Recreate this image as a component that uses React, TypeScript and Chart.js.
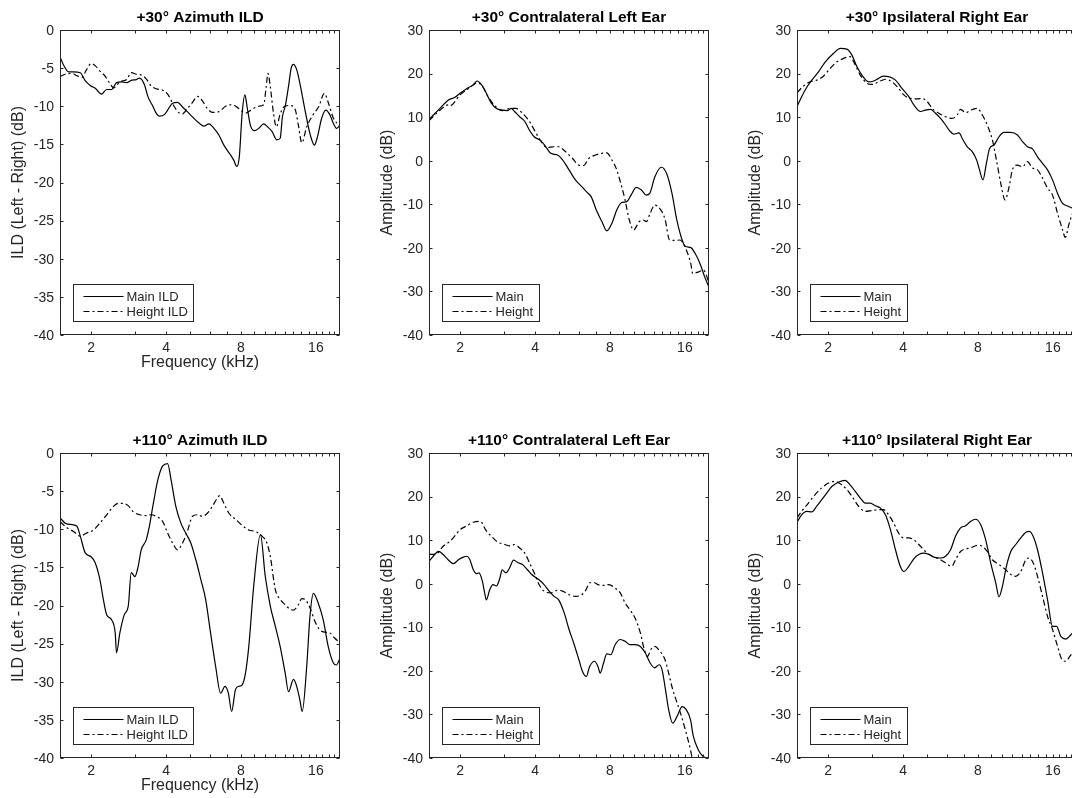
import React, { useEffect, useRef } from "react";
import { Chart, registerables } from "chart.js";

Chart.register(...registerables);

// ---------------- Data (frequency in kHz, level in dB) ----------------
const f30IldMain = [1.5,1.55,1.625,1.7,1.81,1.89,1.99,2.08,2.2,2.31,2.42,2.53,2.65,2.78,2.9,3.04,3.13,3.28,3.38,3.54,3.65,3.76,3.94,4.06,4.25,4.45,4.66,4.87,5.11,5.43,5.68,5.95,6.23,6.53,6.83,7.27,7.49,7.7,7.88,8.09,8.3,8.47,8.73,9.08,9.43,9.87,10.24,10.66,11.16,11.5,11.74,12.05,12.42,12.73,13.0,13.4,13.8,14.47,15.15,15.78,16.24,16.87,17.53,18.2,18.78,19.36,20];
const v30IldMain = [-3.5,-4.6,-5.5,-5.5,-5.6,-6.6,-7.3,-7.65,-8.4,-7.8,-7.8,-6.9,-6.8,-6.9,-6.6,-6.5,-6.3,-7.2,-8.7,-10.0,-10.9,-11.3,-11.1,-10.5,-9.6,-9.5,-10.1,-10.7,-11.4,-12.2,-12.6,-12.3,-12.9,-13.8,-15.1,-16.4,-17.1,-17.9,-16.6,-10.9,-8.5,-10.1,-12.5,-13.2,-12.9,-12.3,-12.7,-13.3,-14.4,-14.2,-11.4,-10.0,-7.4,-5.0,-4.5,-5.2,-7.0,-10.5,-13.6,-15.1,-14.0,-11.6,-10.5,-11.1,-12.2,-12.9,-12.5];

const f30IldHeight = [1.5,1.575,1.68,1.754,1.84,1.91,2.0,2.08,2.17,2.27,2.38,2.46,2.53,2.61,2.78,2.9,3.04,3.18,3.33,3.48,3.65,3.88,4.06,4.19,4.31,4.52,4.66,4.87,5.11,5.35,5.6,5.86,6.14,6.53,6.94,7.38,7.84,8.34,8.87,9.43,9.87,10.1,10.27,10.5,10.82,11.1,11.5,11.98,12.57,13.2,13.61,14.04,14.7,15.6,16.46,17.3,17.94,18.78,20];
const v30IldHeight = [-6.1,-5.8,-5.7,-6.0,-6.2,-5.3,-4.4,-4.7,-5.4,-6.0,-7.0,-7.6,-7.3,-6.8,-6.5,-5.6,-5.8,-5.9,-6.4,-7.3,-7.7,-7.9,-8.4,-9.2,-10.0,-10.9,-11.0,-10.3,-9.5,-8.7,-9.3,-10.3,-10.8,-10.7,-10.0,-9.8,-10.3,-10.9,-10.4,-10.0,-9.8,-7.5,-5.7,-7.5,-11.0,-12.7,-11.0,-10.0,-9.9,-10.4,-12.5,-14.8,-12.7,-11.1,-10.0,-8.3,-9.5,-11.5,-12.6];

const f30LeftMain = [1.5,1.66,1.79,1.9,2.0,2.13,2.26,2.34,2.44,2.55,2.67,2.8,2.96,3.1,3.21,3.31,3.47,3.64,3.8,3.97,4.22,4.42,4.63,4.93,5.16,5.48,5.81,6.18,6.43,6.73,7.05,7.43,7.77,8.14,8.52,8.92,9.34,9.72,10.2,10.7,11.2,11.56,12.12,12.88,13.5,14.2,14.85,15.6,16.1,16.85,17.6,18.4,19.2,20];
const v30LeftMain = [9.5,12.0,13.9,14.5,15.5,16.6,17.4,18.3,17.4,15.5,13.2,12.0,11.6,11.5,12.0,11.3,10.1,9.0,7.0,5.5,4.6,3.2,1.7,1.3,0.2,-2.1,-4.4,-6.0,-7.1,-8.3,-11.3,-14.0,-16.1,-14.4,-11.3,-9.6,-9.4,-7.9,-6.1,-6.7,-7.9,-7.5,-3.7,-1.5,-2.9,-7.5,-13.6,-18.2,-19.7,-19.9,-21.3,-23.6,-26.6,-29.0];

const f30LeftHeight = [1.5,1.66,1.79,1.82,2.0,2.19,2.33,2.44,2.59,2.76,2.96,3.18,3.35,3.56,3.8,4.04,4.28,4.47,4.77,4.98,5.3,5.66,6.0,6.28,6.57,7.0,7.43,7.77,8.14,8.52,8.92,9.2,9.57,9.96,10.48,10.86,11.2,11.6,12.1,12.69,13.3,13.9,14.6,15.3,16.1,16.9,17.2,18.2,19.0,20];
const v30LeftHeight = [9.2,11.6,12.8,12.6,15.1,16.8,17.8,17.4,14.7,12.6,11.5,12.0,12.0,10.9,9.0,6.3,4.0,3.0,3.2,3.2,2.1,0.5,-1.0,-1.1,0.5,1.3,1.7,1.8,0.2,-2.1,-6.0,-9.0,-13.6,-15.9,-14.0,-13.6,-14.0,-12.1,-10.2,-11.0,-13.3,-18.2,-18.3,-18.2,-20.1,-23.6,-25.9,-25.5,-25.1,-28.0];

const f30RightMain = [1.5,1.566,1.64,1.72,1.83,1.95,2.1,2.24,2.38,2.49,2.61,2.73,2.91,3.05,3.19,3.34,3.5,3.73,3.96,4.22,4.42,4.7,4.92,5.16,5.4,5.66,5.93,6.15,6.4,6.71,6.96,7.25,7.59,7.9,8.08,8.38,8.65,8.91,9.28,9.72,10.18,10.84,11.53,12.08,12.65,13.25,13.88,14.54,15.23,15.95,16.71,17.51,18.33,19.2,20];
const v30RightMain = [12.4,14.7,16.8,18.5,20.4,22.7,24.6,25.8,25.6,24.3,21.6,19.7,18.1,18.3,18.9,19.4,19.3,18.5,16.6,14.7,12.8,11.3,11.6,11.8,10.9,9.7,8.2,6.9,6.1,6.4,4.8,3.2,2.1,0.2,-1.7,-4.4,-0.6,2.8,3.6,5.5,6.5,6.5,5.9,4.4,3.2,2.7,0.9,-0.6,-2.1,-4.4,-7.5,-9.8,-10.4,-10.9,-11.5];

const f30RightHeight = [1.5,1.59,1.69,1.8,1.915,2.04,2.17,2.31,2.45,2.57,2.69,2.86,3.0,3.19,3.4,3.61,3.84,4.03,4.28,4.56,4.77,5.0,5.24,5.57,5.93,6.3,6.6,6.81,7.14,7.47,7.95,8.33,8.72,9.14,9.49,9.88,10.28,10.67,11.0,11.53,12.08,12.65,13.25,13.88,14.54,15.23,15.95,16.71,17.51,17.94,18.6,19.2,20];
const v30RightHeight = [15.6,17.1,18.1,18.5,19.4,21.2,22.7,23.5,23.9,22.0,19.7,17.8,17.5,18.1,18.7,18.1,16.6,15.1,14.3,14.2,14.3,13.6,12.0,10.9,10.1,9.7,10.5,11.8,11.0,11.6,12.0,10.5,8.2,4.8,0.2,-5.2,-9.0,-6.0,-2.1,-1.0,-1.4,-0.2,-1.7,-2.1,-4.0,-6.3,-7.9,-12.1,-15.9,-17.6,-14.4,-12.1,-10.5];

const f110IldMain = [1.5,1.575,1.68,1.754,1.81,1.894,2.0,2.077,2.17,2.24,2.31,2.42,2.5,2.53,2.61,2.72,2.82,2.9,3.0,3.09,3.18,3.33,3.43,3.54,3.71,3.88,4.06,4.19,4.38,4.59,4.8,5.03,5.27,5.52,5.77,6.04,6.33,6.63,6.9,7.12,7.34,7.61,7.84,8.09,8.34,8.6,9.0,9.58,10.02,10.5,10.99,11.5,12.05,12.42,13.0,13.4,13.8,14.1,14.7,15.15,15.63,16.36,17.13,17.94,18.78,19.36,20];
const v110IldMain = [-8.5,-9.2,-9.4,-9.6,-10.9,-13.1,-13.6,-14.4,-16.6,-19.2,-21.2,-21.9,-23.6,-26.2,-23.6,-21.2,-20.1,-15.7,-16.2,-14.9,-12.7,-11.4,-9.6,-7.0,-3.5,-1.7,-1.4,-3.5,-7.0,-9.2,-10.5,-11.8,-14.0,-16.6,-19.2,-23.6,-28.0,-31.5,-30.6,-31.5,-33.9,-31.0,-30.6,-30.4,-28.9,-25.4,-17.5,-10.7,-16.2,-20.1,-22.7,-25.4,-28.9,-31.3,-29.7,-30.6,-32.4,-33.9,-28.0,-21.4,-18.4,-19.7,-21.9,-25.4,-27.5,-27.8,-26.9];

const f110IldHeight = [1.5,1.6,1.7,1.81,1.92,2.045,2.17,2.31,2.46,2.57,2.69,2.82,2.95,3.13,3.33,3.48,3.65,3.88,4.06,4.25,4.45,4.66,4.87,5.11,5.35,5.6,5.86,6.14,6.43,6.57,6.83,7.16,7.61,8.09,8.6,9.14,9.72,10.17,10.5,10.99,11.5,12.05,12.6,13.0,13.61,14.04,14.47,15.15,15.87,16.6,17.39,18.2,19.07,20];
const v110IldHeight = [-9.0,-9.8,-10.3,-10.9,-10.5,-10.1,-9.2,-8.1,-7.0,-6.6,-6.6,-6.9,-7.7,-8.1,-8.2,-8.1,-8.3,-9.0,-10.5,-11.8,-12.7,-11.8,-10.3,-8.3,-8.1,-8.3,-7.9,-7.0,-5.9,-5.6,-6.6,-7.9,-8.7,-9.5,-10.1,-10.3,-10.9,-11.8,-13.6,-17.9,-19.2,-19.9,-20.5,-20.6,-19.9,-19.1,-19.2,-20.3,-22.1,-23.2,-23.5,-23.6,-24.3,-24.9];

const f110LeftMain = [1.5,1.56,1.64,1.71,1.79,1.88,1.97,2.06,2.13,2.19,2.26,2.33,2.38,2.46,2.51,2.55,2.63,2.71,2.8,2.89,2.95,3.06,3.16,3.28,3.42,3.56,3.73,3.88,4.15,4.35,4.56,4.77,4.98,5.24,5.48,5.72,6.0,6.2,6.43,6.63,6.94,7.16,7.31,7.54,7.77,8.06,8.39,8.8,9.2,9.63,10.1,10.6,11.1,11.6,12.1,12.6,12.95,13.37,13.77,14.3,14.9,15.6,16.2,16.85,17.3,18.1,18.9,19.4,20];
const v110LeftMain = [5.1,6.3,7.4,6.7,5.5,4.6,5.5,6.1,6.3,5.5,3.2,2.3,2.5,0.5,-2.1,-3.7,-1.4,-0.2,-0.5,1.3,3.2,2.5,3.6,5.4,4.8,4.4,3.2,2.1,0.9,-0.2,-1.7,-2.9,-3.7,-6.7,-10.5,-13.6,-17.4,-20.1,-21.3,-19.0,-17.8,-19.0,-20.5,-18.2,-16.1,-16.3,-14.0,-12.8,-13.2,-14.0,-14.0,-14.4,-15.9,-18.2,-19.3,-18.6,-19.7,-24.3,-28.9,-32.0,-30.4,-28.2,-28.9,-31.2,-35.0,-38.1,-39.6,-40.0,-41.0];

const f110LeftHeight = [1.5,1.61,1.71,1.82,1.9,2.0,2.13,2.26,2.38,2.44,2.53,2.67,2.84,2.96,3.16,3.31,3.47,3.64,3.8,3.97,4.15,4.35,4.63,4.93,5.16,5.48,5.81,6.08,6.37,6.63,6.87,7.16,7.54,7.9,8.39,8.8,9.2,9.63,10.1,10.6,10.99,11.33,11.68,12.1,12.7,13.3,13.77,14.3,14.9,15.5,16.2,16.85,17.1,17.5];
const v110LeftHeight = [6.7,6.9,8.6,9.7,10.9,12.4,13.3,14.1,14.3,14.1,12.4,10.9,9.5,9.2,8.7,9.0,8.2,7.0,4.8,2.5,-0.2,-1.7,-2.1,-1.5,-1.7,-2.5,-2.9,-2.7,-1.7,0.2,0.3,-0.2,-0.4,-0.2,-1.0,-2.1,-4.4,-6.0,-7.9,-11.3,-15.1,-16.7,-15.1,-14.4,-15.5,-17.4,-20.5,-24.3,-27.4,-30.4,-34.3,-38.1,-40.0,-43.0];

const f110RightMain = [1.5,1.566,1.64,1.72,1.8,1.886,1.975,2.07,2.2,2.34,2.45,2.57,2.69,2.82,2.95,3.09,3.24,3.4,3.56,3.73,3.9,4.03,4.22,4.42,4.63,4.85,5.08,5.32,5.66,5.93,6.21,6.5,6.81,7.14,7.47,7.83,8.2,8.59,9.0,9.43,9.72,10.03,10.41,10.84,11.35,11.89,12.46,12.85,13.33,13.88,14.54,15.23,15.95,16.56,17.23,18.05,18.9,19.2,20];
const v110RightMain = [14.1,15.8,16.6,16.5,17.8,19.3,20.8,22.3,23.3,23.7,22.7,21.2,19.7,18.5,18.5,17.9,17.4,15.8,12.4,7.8,4.0,2.8,4.0,5.7,6.7,7.0,6.7,6.1,5.9,6.3,7.8,10.9,12.8,13.3,14.3,14.8,13.6,10.1,4.8,0.2,-3.0,-0.6,4.0,7.4,9.0,10.5,11.8,12.0,10.9,7.8,2.5,-3.7,-9.8,-9.8,-12.1,-12.7,-11.7,-11.3,-10.5];

const f110RightHeight = [1.5,1.566,1.667,1.77,1.886,2.006,2.13,2.27,2.38,2.49,2.65,2.82,3.0,3.19,3.34,3.5,3.67,3.84,4.03,4.22,4.42,4.63,4.92,5.24,5.57,5.93,6.27,6.5,6.81,7.14,7.47,7.95,8.33,8.72,9.14,9.72,10.34,10.84,11.35,11.89,12.46,12.85,13.33,13.88,14.54,15.23,15.95,16.71,17.4,18.05,18.7,19.2,20];
const v110RightHeight = [15.1,16.6,18.5,20.4,22.0,23.1,23.5,22.7,21.6,20.1,17.8,16.6,16.8,17.0,17.0,15.8,13.9,11.6,10.5,10.5,10.1,9.0,7.4,6.3,5.7,4.8,4.0,5.5,7.4,8.0,8.2,8.8,8.6,7.4,5.5,4.4,3.2,2.1,1.7,2.8,5.5,5.9,4.8,1.7,-2.9,-7.5,-10.5,-14.4,-17.4,-17.8,-16.7,-15.9,-14.5];

// ---------------- Axes ticks ----------------
const freqTicks = [2,3,4,5,6,7,8,9,10,11,12,13,14,15,16,17,18,19];
const freqLabels = [2,4,8,16];
const ildTicks = [0,-5,-10,-15,-20,-25,-30,-35,-40];
const ampTicks = [30,20,10,0,-10,-20,-30,-40];

const ildLegend = ["Main ILD", "Height ILD"];
const ampLegend = ["Main", "Height"];

// ---------------- Layout / style ----------------
const FONT = '"Liberation Sans", Arial, Helvetica, sans-serif';
const AXIS = "#262626";
const PAD_L = 60, PAD_T = 32, PAD_R = 10, PAD_B = 45;
const PW = 280, PH = 305;
const CW = PAD_L + PW + PAD_R, CH = PAD_T + PH + PAD_B;
const COLS = [60, 429, 797];
const ROWS = [30, 453];
const DASH = [6, 3, 2, 3];

type Spec = {
  title: string; yLabel: string; xLabel: string | null;
  yMin: number; yMax: number; yTicks: number[]; legend: string[];
  fMain: number[]; vMain: number[]; fHeight: number[]; vHeight: number[];
  col: number; row: number;
};

const specs: Spec[] = [
  { title: "+30° Azimuth ILD", yLabel: "ILD (Left - Right) (dB)", xLabel: "Frequency (kHz)", yMin: -40, yMax: 0, yTicks: ildTicks, legend: ildLegend, fMain: f30IldMain, vMain: v30IldMain, fHeight: f30IldHeight, vHeight: v30IldHeight, col: 0, row: 0 },
  { title: "+30° Contralateral Left Ear", yLabel: "Amplitude (dB)", xLabel: null, yMin: -40, yMax: 30, yTicks: ampTicks, legend: ampLegend, fMain: f30LeftMain, vMain: v30LeftMain, fHeight: f30LeftHeight, vHeight: v30LeftHeight, col: 1, row: 0 },
  { title: "+30° Ipsilateral Right Ear", yLabel: "Amplitude (dB)", xLabel: null, yMin: -40, yMax: 30, yTicks: ampTicks, legend: ampLegend, fMain: f30RightMain, vMain: v30RightMain, fHeight: f30RightHeight, vHeight: v30RightHeight, col: 2, row: 0 },
  { title: "+110° Azimuth ILD", yLabel: "ILD (Left - Right) (dB)", xLabel: "Frequency (kHz)", yMin: -40, yMax: 0, yTicks: ildTicks, legend: ildLegend, fMain: f110IldMain, vMain: v110IldMain, fHeight: f110IldHeight, vHeight: v110IldHeight, col: 0, row: 1 },
  { title: "+110° Contralateral Left Ear", yLabel: "Amplitude (dB)", xLabel: null, yMin: -40, yMax: 30, yTicks: ampTicks, legend: ampLegend, fMain: f110LeftMain, vMain: v110LeftMain, fHeight: f110LeftHeight, vHeight: v110LeftHeight, col: 1, row: 1 },
  { title: "+110° Ipsilateral Right Ear", yLabel: "Amplitude (dB)", xLabel: null, yMin: -40, yMax: 30, yTicks: ampTicks, legend: ampLegend, fMain: f110RightMain, vMain: v110RightMain, fHeight: f110RightHeight, vHeight: v110RightHeight, col: 2, row: 1 },
];

function zip(f: number[], v: number[]) {
  const n = Math.min(f.length, v.length);
  const out: { x: number; y: number }[] = [];
  for (let i = 0; i < n; i++) out.push({ x: f[i], y: v[i] });
  return out;
}

function makeAxesPlugin(spec: Spec) {
  return {
    id: "matlabAxes",
    afterDatasetsDraw(chart: any) {
      const { ctx, chartArea: a, scales } = chart;
      const xs = scales.x, ys = scales.y;
      const L = Math.round(a.left) + 0.5, R = Math.round(a.right) - 0.5;
      const T = Math.round(a.top) + 0.5, B = Math.round(a.bottom) - 0.5;
      const TL = 3;
      ctx.save();
      ctx.strokeStyle = AXIS;
      ctx.lineWidth = 1;
      ctx.setLineDash([]);
      ctx.beginPath();
      // ticks x
      for (const f of freqTicks) {
        const px = Math.round(xs.getPixelForValue(f)) + 0.5;
        ctx.moveTo(px, B); ctx.lineTo(px, B - TL);
        ctx.moveTo(px, T); ctx.lineTo(px, T + TL);
      }
      for (const v of spec.yTicks) {
        const py = Math.round(ys.getPixelForValue(v)) + 0.5;
        ctx.moveTo(L, py); ctx.lineTo(L + TL, py);
        ctx.moveTo(R, py); ctx.lineTo(R - TL, py);
      }
      ctx.stroke();
      ctx.strokeRect(L, T, R - L, B - T);

      // tick labels
      ctx.fillStyle = AXIS;
      ctx.font = `14px ${FONT}`;
      ctx.textAlign = "center";
      ctx.textBaseline = "middle";
      for (const f of freqLabels) {
        ctx.fillText(String(f), xs.getPixelForValue(f), a.bottom + 13);
      }
      ctx.textAlign = "right";
      for (const v of spec.yTicks) {
        ctx.fillText(String(v), a.left - 6, ys.getPixelForValue(v) + 1);
      }

      // axis labels
      ctx.font = `16px ${FONT}`;
      if (spec.xLabel) {
        ctx.textAlign = "center";
        ctx.fillText(spec.xLabel, (a.left + a.right) / 2, a.bottom + 28);
      }
      ctx.save();
      ctx.translate(a.left - 41, (a.top + a.bottom) / 2);
      ctx.rotate(-Math.PI / 2);
      ctx.textAlign = "center";
      ctx.fillText(spec.yLabel, 0, 0);
      ctx.restore();

      // title
      ctx.fillStyle = "#000";
      ctx.font = `bold 15.5px ${FONT}`;
      ctx.textAlign = "center";
      ctx.fillText(spec.title, (a.left + a.right) / 2, a.top - 12.5);

      // legend
      ctx.font = `13px ${FONT}`;
      const tw = Math.max(...spec.legend.map((s) => ctx.measureText(s).width));
      const bw = Math.round(53 + tw + 6);
      const bh = 37;
      const bx = Math.round(a.left + 13) + 0.5;
      const by = Math.round(a.bottom - 14 - bh) + 0.5;
      ctx.fillStyle = "#fff";
      ctx.fillRect(bx, by, bw, bh);
      ctx.strokeStyle = AXIS;
      ctx.lineWidth = 1;
      ctx.strokeRect(bx, by, bw, bh);
      const rows = [by + 11.5, by + 26];
      ctx.textAlign = "left";
      ctx.textBaseline = "middle";
      for (let i = 0; i < 2; i++) {
        const yy = Math.round(rows[i]) + 0.5;
        ctx.strokeStyle = "#000";
        ctx.lineWidth = 1.2;
        ctx.setLineDash(i === 0 ? [] : DASH);
        ctx.beginPath();
        ctx.moveTo(bx + 10, yy);
        ctx.lineTo(bx + 50, yy);
        ctx.stroke();
        ctx.setLineDash([]);
        ctx.fillStyle = AXIS;
        ctx.fillText(spec.legend[i], bx + 53, yy + 0.5);
      }
      ctx.restore();
    },
  };
}

function Panel({ spec }: { spec: Spec }) {
  const ref = useRef<HTMLCanvasElement | null>(null);
  useEffect(() => {
    if (!ref.current) return;
    const chart = new Chart(ref.current, {
      type: "line",
      data: {
        datasets: [
          {
            label: spec.legend[0],
            data: zip(spec.fMain, spec.vMain),
            borderColor: "#000",
            borderWidth: 1.2,
            pointRadius: 0,
            fill: false,
            cubicInterpolationMode: "monotone",
          },
          {
            label: spec.legend[1],
            data: zip(spec.fHeight, spec.vHeight),
            borderColor: "#000",
            borderWidth: 1.2,
            borderDash: DASH,
            pointRadius: 0,
            fill: false,
            cubicInterpolationMode: "monotone",
          },
        ],
      } as any,
      options: {
        animation: false,
        responsive: false,
        events: [],
        layout: { padding: { left: PAD_L, top: PAD_T, right: PAD_R, bottom: PAD_B } },
        plugins: { legend: { display: false }, tooltip: { enabled: false }, title: { display: false } },
        scales: {
          x: { type: "logarithmic", min: 1.5, max: 20, display: false },
          y: { type: "linear", min: spec.yMin, max: spec.yMax, display: false },
        },
      } as any,
      plugins: [makeAxesPlugin(spec)],
    });
    return () => chart.destroy();
  }, [spec]);
  return (
    <canvas
      ref={ref}
      width={CW}
      height={CH}
      style={{
        position: "absolute",
        left: COLS[spec.col] - PAD_L,
        top: ROWS[spec.row] - PAD_T,
        width: CW,
        height: CH,
      }}
    />
  );
}

export default function App() {
  return (
    <div
      style={{
        position: "absolute",
        left: 0,
        top: 0,
        width: 1072,
        height: 798,
        overflow: "hidden",
        background: "#fff",
      }}
    >
      {specs.map((s, i) => (
        <Panel key={i} spec={s} />
      ))}
    </div>
  );
}
